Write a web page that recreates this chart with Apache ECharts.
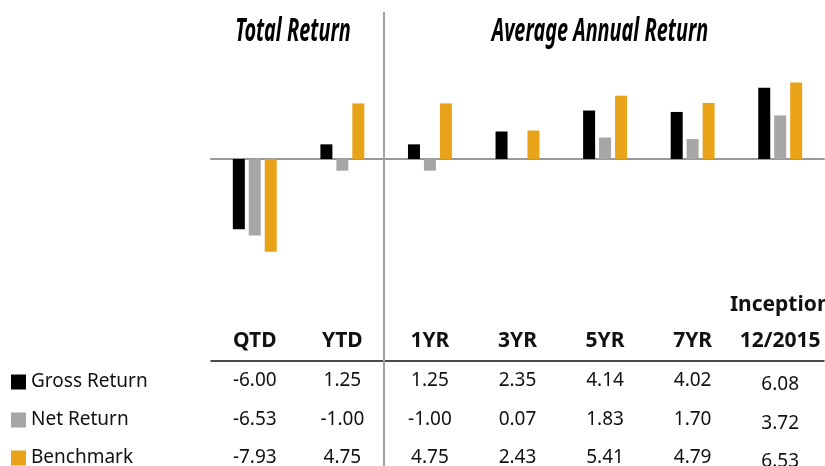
<!DOCTYPE html>
<html lang="en">
<head>
    <meta charset="UTF-8">
    <title>Returns</title>
    <script src="https://cdn.jsdelivr.net/npm/echarts@6.0.0/dist/echarts.min.js"></script>
    <style>
        html, body { margin: 0; padding: 0; background: #fff; }
    </style>
</head>
<body>
<div id="container" style="width: 825px; height: 466px"></div>

<script type="text/javascript">
    var categories = ['QTD', 'YTD', '1YR', '3YR', '5YR', '7YR', '12/2015'];
    var topLabels = ['', '', '', '', '', '', 'Inception'];
    var gross = [-6.00, 1.25, 1.25, 2.35, 4.14, 4.02, 6.08];
    var net = [-6.53, -1.00, -1.00, 0.07, 1.83, 1.70, 3.72];
    var bench = [-7.93, 4.75, 4.75, 2.43, 5.41, 4.79, 6.53];
    var seriesNames = ['Gross Return', 'Net Return', 'Benchmark'];

    var dom = document.getElementById('container');
    var myChart = echarts.init(dom, null, {renderer: 'canvas'});

    var tableFont = "'Noto Sans', 'Open Sans', sans-serif";

    // grid bottom edge sits at y = 255.5, label rows are offset from it
    function labelAxis(offset, labels, bold, fmt) {
        return {
            type: 'category',
            data: categories,
            position: 'bottom',
            offset: offset,
            axisLine: {show: false},
            axisTick: {show: false},
            axisLabel: {
                interval: 0,
                margin: 0,
                verticalAlign: 'middle',
                color: '#111',
                fontFamily: tableFont,
                fontSize: bold ? 21 : 19,
                fontWeight: bold ? 'bold' : 'normal',
                formatter: fmt || function (v, i) { return labels[i]; },
                rich: {low: {fontFamily: tableFont, fontSize: 19, color: '#111', padding: [8, 0, 0, 0]}}
            }
        };
    }

    function valueFmt(arr) {
        return function (v, i) {
            if (i === 6) return '{low|' + arr[i].toFixed(2) + '}';
            return arr[i].toFixed(2);
        };
    }

    function legendRow(name, top) {
        return {
            orient: 'vertical',
            left: 11,
            top: top,
            padding: 0,
            itemWidth: 15,
            itemHeight: 15,
            icon: 'rect',
            textStyle: {fontFamily: tableFont, fontSize: 19, lineHeight: 20, color: '#111'},
            data: [name]
        };
    }

    function headerText(text, x) {
        return {
            type: 'text',
            x: x,
            y: 32,
            scaleX: 0.62,
            style: {
                text: text,
                font: "italic bold 32px 'Noto Sans', sans-serif",
                fill: '#000',
                textAlign: 'center',
                textVerticalAlign: 'middle'
            }
        };
    }

    var option = {
        animation: false,
        legend: [
            legendRow(seriesNames[0], 372),
            legendRow(seriesNames[1], 410),
            legendRow(seriesNames[2], 448)
        ],
        grid: {left: 211, right: 1, top: 80, bottom: 210.5, outerBoundsMode: 'none'},
        xAxis: [
            {
                type: 'category',
                data: categories,
                axisLine: {onZero: true, lineStyle: {color: '#999', width: 2}},
                axisTick: {show: false},
                axisLabel: {show: false}
            },
            // header underline
            {
                type: 'category',
                data: categories,
                position: 'bottom',
                offset: 105.5,
                axisLine: {show: true, lineStyle: {color: '#111', width: 1.5}},
                axisTick: {show: false},
                axisLabel: {show: false}
            },
            labelAxis(49.5, topLabels, true),
            labelAxis(86, categories, true),
            labelAxis(125.5, null, false, valueFmt(gross)),
            labelAxis(164, null, false, valueFmt(net)),
            labelAxis(202, null, false, valueFmt(bench))
        ],
        yAxis: {
            type: 'value',
            min: -8.25,
            max: 6.75,
            show: false,
            splitLine: {show: false}
        },
        graphic: [
            headerText('Total Return', 293),
            headerText('Average Annual Return', 600),
            {
                type: 'line',
                shape: {x1: 384, y1: 12, x2: 384, y2: 466},
                style: {stroke: '#a0a0a0', lineWidth: 2},
                z: 10
            }
        ],
        series: [
            {name: seriesNames[0], type: 'bar', data: gross, barWidth: 12, barGap: '33%', itemStyle: {color: '#000000'}},
            {name: seriesNames[1], type: 'bar', data: net, barWidth: 12, barGap: '33%', itemStyle: {color: '#a6a6a6'}},
            {name: seriesNames[2], type: 'bar', data: bench, barWidth: 12, barGap: '33%', itemStyle: {color: '#e9a318'}}
        ]
    };

    myChart.setOption(option);
    window.addEventListener('resize', myChart.resize);
</script>
</body>
</html>
